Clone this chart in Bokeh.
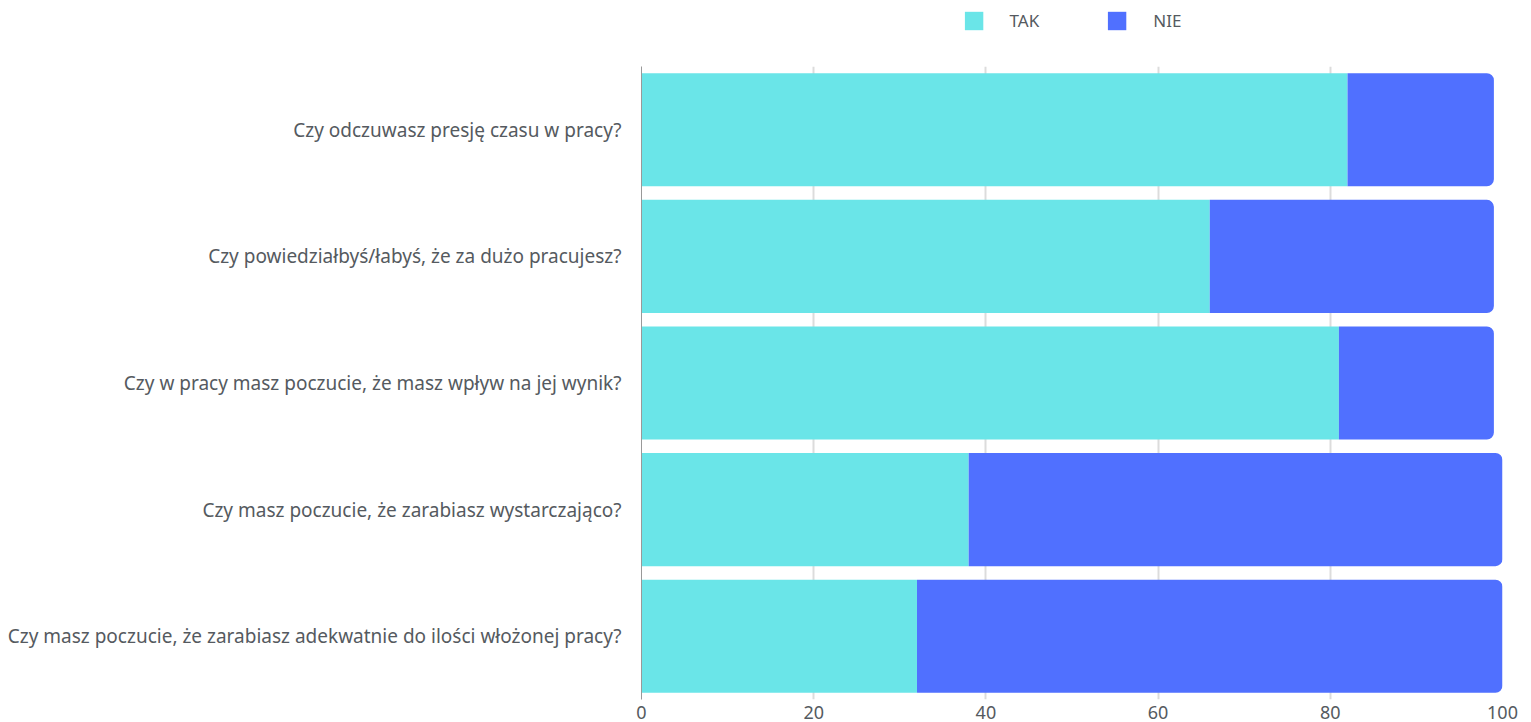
from bokeh.plotting import figure
from bokeh.layouts import column
from bokeh.models import Legend, LegendItem, FactorRange, Range1d
from bokeh.embed import file_html
from bokeh.resources import INLINE

questions = [
    "Czy odczuwasz presję czasu w pracy?",
    "Czy powiedziałbyś/łabyś, że za dużo pracujesz?",
    "Czy w pracy masz poczucie, że masz wpływ na jej wynik?",
    "Czy masz poczucie, że zarabiasz wystarczająco?",
    "Czy masz poczucie, że zarabiasz adekwatnie do ilości włożonej pracy?",
]
tak = [82, 66, 81, 38, 32]
nie = [17, 33, 18, 62, 68]
x_ticks = [0, 20, 40, 60, 80, 100]
series = ["TAK", "NIE"]

TAK_COLOR = "#6AE5E8"
NIE_COLOR = "#5070FF"
TEXT = "#555a60"
FONT = "Noto Sans"

# ---- legend strip ----
lg = figure(width=1531, height=58, x_range=Range1d(0, 1), y_range=Range1d(0, 1),
            x_axis_location=None, y_axis_location=None,
            output_backend="svg", toolbar_location=None,
            min_border_left=626, min_border_right=29, min_border_top=0, min_border_bottom=0)
lg.outline_line_color = None
lg.grid.visible = False
d_tak = lg.hbar(y=[0.5], left=[0], right=[0], height=0, fill_color=TAK_COLOR,
                line_color=None, border_radius=2)
d_nie = lg.hbar(y=[0.5], left=[0], right=[0], height=0, fill_color=NIE_COLOR,
                line_color=None, border_radius=2)
legend = Legend(
    items=[LegendItem(label=series[0], renderers=[d_tak]),
           LegendItem(label=series[1], renderers=[d_nie])],
    orientation="horizontal", location="top_center",
    glyph_width=23, glyph_height=23, label_standoff=25, spacing=66,
    label_text_font=FONT, label_text_font_size="17px", label_text_color=TEXT,
    border_line_color=None, background_fill_alpha=0,
    margin=9, padding=0,
)
lg.add_layout(legend, "center")

# ---- main chart ----
p = figure(
    width=1531, height=664,
    y_range=FactorRange(*reversed(questions), range_padding=0),
    x_range=Range1d(0, 100),
    output_backend="svg", toolbar_location=None,
    min_border_left=641, min_border_right=29, min_border_top=8, min_border_bottom=23,
)
p.outline_line_color = None

nie_left = tak
nie_right = [a + b for a, b in zip(tak, nie)]

p.hbar(y=questions, left=0, right=tak, height=0.893,
       fill_color=TAK_COLOR, line_color=None)
p.hbar(y=questions, left=nie_left, right=nie_right, height=0.893,
       fill_color=NIE_COLOR, line_color=None, border_radius=(0, 7, 7, 0))

p.xaxis.ticker = x_ticks
p.xaxis.axis_line_color = None
p.xaxis.major_tick_line_color = None
p.xaxis.minor_tick_line_color = None
p.xaxis.major_label_text_font = FONT
p.xaxis.major_label_text_font_size = "18px"
p.xaxis.major_label_text_color = TEXT
p.xaxis.major_label_standoff = 0

p.yaxis.axis_line_color = "#999999"
p.yaxis.major_tick_line_color = None
p.yaxis.minor_tick_line_color = None
p.yaxis.major_label_text_font = FONT
p.yaxis.major_label_text_font_size = "19px"
p.yaxis.major_label_text_color = TEXT
p.yaxis.major_label_standoff = 14

p.ygrid.grid_line_color = None
p.xgrid.grid_line_color = "#dcdcdc"
p.xgrid.grid_line_width = 2

layout = column(lg, p, spacing=0)
open("out.html", "w").write(file_html(layout, INLINE))
